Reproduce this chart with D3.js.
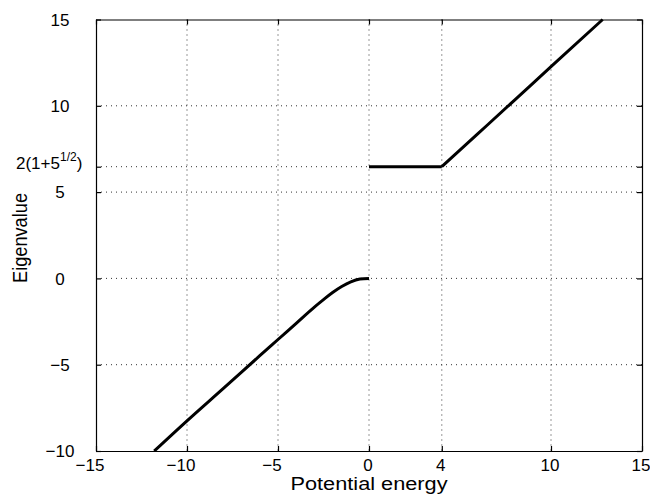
<!DOCTYPE html>
<html>
<head>
<meta charset="utf-8">
<script src="https://cdn.jsdelivr.net/npm/d3@7"></script>
<style>
  body { margin: 0; background: #fff; }
  svg { display: block; font-family: "Liberation Sans", Arial, Helvetica, sans-serif; }
</style>
</head>
<body>
<div id="chart"></div>
<script>
// tick values
const xTicks = [-15, -10, -5, 0, 4, 10, 15];
const yTicks = [-10, -5, 0, 5, 6.472, 10, 15];
const specialTick = 6.472; // 2(1+5^{1/2})

// lower branch
const lowerV = [-11.8, -10, -8, -6, -5, -4, -3, -2.5, -2, -1.5, -1, -0.5, 0];
const lowerE = [-10, -8.25, -6.37, -4.48, -3.54, -2.6, -1.66, -1.23, -0.82, -0.47, -0.2, -0.04, 0];

// flat part
const flatV = [0, 4];
const flatE = [6.472, 6.472];

// upper branch
const upperV = [4, 6, 8, 10, 12.84];
const upperE = [6.472, 8.4, 10.33, 12.27, 15];

const W = 650, H = 494;
const plot = { left: 96, right: 642, top: 19.5, bottom: 451 };

const svg = d3.select("#chart").append("svg")
  .attr("width", W)
  .attr("height", H);

const x = d3.scaleLinear().domain([-15, 15]).range([plot.left, plot.right]);
const y = d3.scaleLinear().domain([-10, 15]).range([plot.bottom, plot.top]);

// === grid (dotted) ===
const grid = svg.append("g");
xTicks.filter(t => t > -15 && t < 15).forEach(t => {
  grid.append("line")
    .attr("x1", x(t)).attr("x2", x(t))
    .attr("y1", plot.top).attr("y2", plot.bottom)
    .attr("stroke", "#333").attr("stroke-width", 1)
    .attr("stroke-dasharray", "1,4");
});
yTicks.filter(t => t > -10 && t < 15).forEach(t => {
  grid.append("line")
    .attr("x1", plot.left).attr("x2", plot.right)
    .attr("y1", y(t)).attr("y2", y(t))
    .attr("stroke", "#333").attr("stroke-width", 1)
    .attr("stroke-dasharray", "1,4");
});

// === box + inward ticks ===
const tickLen = 5;
const gBottom = svg.append("g").attr("transform", `translate(0,${plot.bottom})`)
  .call(d3.axisBottom(x).tickValues(xTicks).tickSizeInner(-tickLen).tickSizeOuter(0).tickFormat(""));
const gTop = svg.append("g").attr("transform", `translate(0,${plot.top})`)
  .call(d3.axisTop(x).tickValues(xTicks).tickSizeInner(-tickLen).tickSizeOuter(0).tickFormat(""));
const gLeft = svg.append("g").attr("transform", `translate(${plot.left},0)`)
  .call(d3.axisLeft(y).tickValues(yTicks).tickSizeInner(-tickLen).tickSizeOuter(0).tickFormat(""));
const gRight = svg.append("g").attr("transform", `translate(${plot.right},0)`)
  .call(d3.axisRight(y).tickValues(yTicks).tickSizeInner(-tickLen).tickSizeOuter(0).tickFormat(""));
[gBottom, gTop, gLeft, gRight].forEach(g => {
  g.selectAll("path, line").attr("stroke", "#000").attr("stroke-width", 1.2);
});

// === x tick labels (digits centred on tick, minus hangs left) ===
xTicks.forEach(t => {
  const digits = svg.append("text")
    .attr("x", x(t) - 1)
    .attr("y", 470.5)
    .attr("text-anchor", "middle")
    .style("font-size", "17px")
    .text(Math.abs(t));
  if (t < 0) {
    const w = digits.node().getComputedTextLength();
    svg.append("text")
      .attr("x", x(t) - 1 - w / 2)
      .attr("y", 470.5)
      .attr("text-anchor", "end")
      .style("font-size", "17px")
      .text("\u2212");
  }
});

// === y tick labels ===
yTicks.filter(t => t !== specialTick).forEach(t => {
  svg.append("text")
    .attr("x", 60)
    .attr("y", y(t))
    .attr("dy", "0.36em")
    .attr("text-anchor", "middle")
    .style("font-size", "17px")
    .text(t < 0 ? "\u2212" + Math.abs(t) : t);
});

const sp = svg.append("text")
  .attr("x", 16)
  .attr("y", y(specialTick) + 2)
  .style("font-size", "17px");
sp.append("tspan").text("2(1+5");
sp.append("tspan").attr("dy", -8).style("font-size", "12px").text("1/2");
sp.append("tspan").attr("dy", 8).text(")");

// === axis titles ===
svg.append("text")
  .attr("x", (plot.left + plot.right) / 2)
  .attr("y", 490)
  .attr("text-anchor", "middle")
  .attr("textLength", 157)
  .attr("lengthAdjust", "spacingAndGlyphs")
  .style("font-size", "17.5px")
  .text("Potential energy");

svg.append("text")
  .attr("transform", `translate(27,238) rotate(-90)`)
  .attr("text-anchor", "middle")
  .attr("textLength", 90)
  .attr("lengthAdjust", "spacingAndGlyphs")
  .style("font-size", "20px")
  .text("Eigenvalue");

// === curves ===
const line = d3.line()
  .x(d => x(d[0]))
  .y(d => y(d[1]))
  .curve(d3.curveMonotoneX);

const branches = [
  d3.zip(lowerV, lowerE),
  d3.zip(flatV, flatE),
  d3.zip(upperV, upperE)
];

svg.append("g")
  .selectAll("path")
  .data(branches)
  .join("path")
    .attr("d", line)
    .attr("fill", "none")
    .attr("stroke", "#000")
    .attr("stroke-width", 3)
    .attr("stroke-linejoin", "round");
</script>
</body>
</html>
